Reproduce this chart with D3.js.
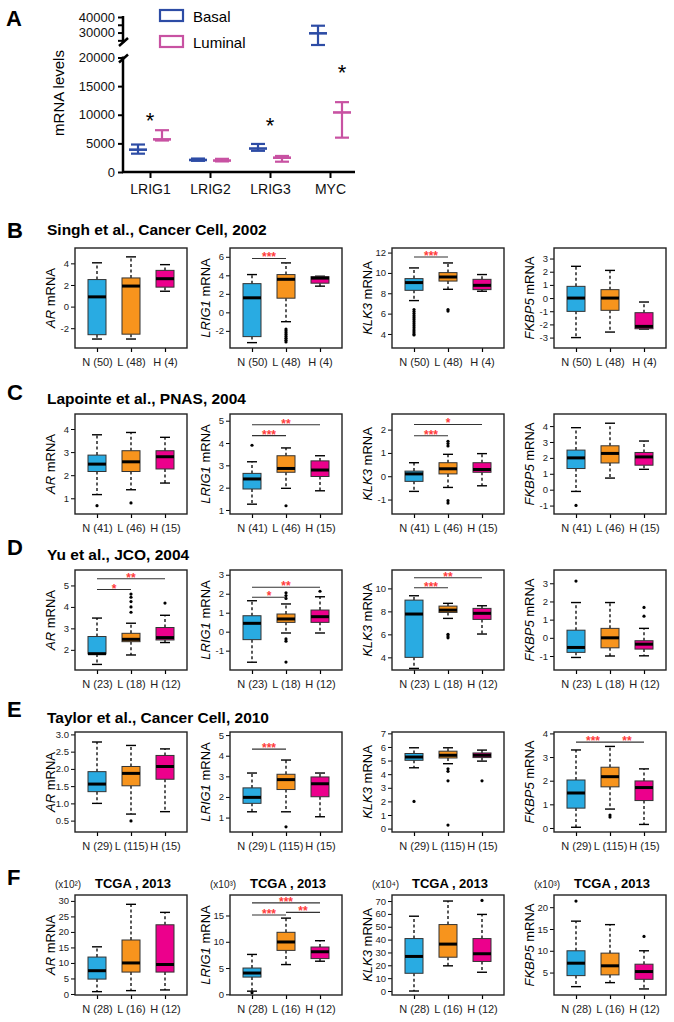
<!DOCTYPE html>
<html>
<head>
<meta charset="utf-8">
<script src="https://cdn.jsdelivr.net/npm/d3@7"></script>
<style>
body { margin: 0; background: #fff; }
svg { display: block; font-family: "Liberation Sans", Arial, Helvetica, sans-serif; }
</style>
</head>
<body>
<script>
const WIDTH = 674;
const HEIGHT = 1022;
const FONT = "'Liberation Sans', Arial, Helvetica, sans-serif";

// ---------- panel A data
const genesA = ["LRIG1", "LRIG2", "LRIG3", "MYC"];
const basalMean = [3900, 2100, 4100, 29500];
const basalHigh = [4800, 2350, 4900, 34400];
const basalLow = [3200, 1950, 3700, 22000];
const luminalMean = [5700, 2000, 2500, 10400];
const luminalHigh = [7300, 2300, 2800, 12200];
const luminalLow = [5500, 1850, 1800, 6000];
const starGenesA = ["LRIG1", "LRIG3", "MYC"];
const starLevelsA = [9700, 8900, 18100];
const starOverA = ["both", "both", "Luminal"];
const yTicksA = [0, 5000, 10000, 15000, 20000, 25000, 30000, 35000, 40000];
const yLabelsA = [0, 5000, 10000, 15000, 20000, 30000, 40000];

// ---------- panels B-F data
const groups = ["N", "L", "H"];
const genes = ["AR", "LRIG1", "KLK3", "FKBP5"];
const studies = [
    "Singh et al., Cancer Cell, 2002",
    "Lapointe et al., PNAS, 2004",
    "Yu et al., JCO, 2004",
    "Taylor et al., Cancer Cell, 2010",
    "TCGA , 2013"
];
const letters = ["B", "C", "D", "E", "F"];
const tcgaScales = ["(x10²)", "(x10³)", "(x10⁴)", "(x10³)"];

// box stats per gene (AR, LRIG1, KLK3, FKBP5), each N, L, H: [low, q1, median, q3, high]
const singhCounts = [50, 48, 4];
const singhStats = [
    [[-3.0, -2.6, 0.9, 2.5, 4.05], [-3.0, -2.55, 1.9, 2.65, 4.6], [1.42, 1.8, 2.58, 3.35, 3.88]],
    [[-3.27, -2.62, 1.57, 3.1, 4.08], [-1.01, 1.53, 3.57, 4.08, 5.34], [2.83, 3.15, 3.7, 3.85, 3.9]],
    [[7.28, 8.29, 9.05, 9.44, 10.49], [8.39, 9.2, 9.6, 10.03, 10.98], [8.2, 8.36, 8.78, 9.37, 9.84]],
    [[-3.0, -1.01, 0.0, 0.89, 2.41], [-2.58, -0.93, 0.0, 0.64, 2.1], [-2.35, -2.33, -2.15, -1.11, -0.3]]
];
const singhOut = [
    [[], [], []],
    [[], [-1.8, -2.0, -2.2, -2.4, -2.6, -2.8, -3.0, -3.2], []],
    [[6.4, 6.2, 6.0, 5.8, 5.6, 5.4, 5.2, 5.0, 4.8, 4.6, 4.4, 4.2, 4.0, 3.9], [6.4, 6.25], []],
    [[], [], []]
];
const singhTicks = [[-2, 0, 2, 4], [-2, 0, 2, 4, 6], [4, 6, 8, 10, 12], [-3, -2, -1, 0, 1, 2, 3]];
const singhDomain = [[-3.83, 5.42], [-3.85, 6.95], [2.62, 12.45], [-3.79, 3.8]];
const singhSig = [[1, "N", "L", 5.82, "***"], [2, "N", "L", 11.57, "***"]];

const lapointeCounts = [41, 46, 15];
const lapointeStats = [
    [[1.16, 2.16, 2.48, 2.87, 3.75], [1.37, 2.16, 2.58, 3.06, 3.85], [1.66, 2.27, 2.8, 3.06, 3.64]],
    [[1.26, 1.94, 2.39, 2.64, 3.16], [1.97, 2.69, 2.86, 3.43, 3.78], [1.86, 2.5, 2.79, 3.2, 3.43]],
    [[-0.65, -0.22, 0.1, 0.22, 0.58], [-0.48, 0.1, 0.32, 0.58, 0.94], [-0.41, 0.17, 0.29, 0.58, 0.97]],
    [[-0.11, 1.33, 2.0, 2.49, 3.9], [0.73, 1.68, 2.28, 2.76, 4.18], [1.28, 1.54, 2.06, 2.34, 3.06]]
];
const lapointeOut = [
    [[0.68], [0.8], []],
    [[3.9], [1.19], []],
    [[], [1.5, 1.4, 1.3, -1.05, -1.15], []],
    [[-0.99], [], []]
];
const lapointeTicks = [[1, 2, 3, 4], [1, 2, 3, 4, 5], [-1, 0, 1, 2], [-1, 0, 1, 2, 3, 4]];
const lapointeDomain = [[0.32, 4.65], [0.82, 5.3], [-1.62, 2.67], [-1.53, 4.76]];
const lapointeSig = [
    [1, "N", "L", 4.33, "***"], [1, "N", "H", 4.82, "**"],
    [2, "N", "L", 1.74, "***"], [2, "N", "H", 2.22, "*"]
];

const yuCounts = [23, 18, 12];
const yuStats = [
    [[1.32, 1.81, 1.82, 2.62, 3.48], [1.76, 2.38, 2.49, 2.77, 3.24], [2.34, 2.46, 2.57, 3.04, 3.61]],
    [[-1.61, -0.42, 0.44, 0.84, 1.63], [-0.07, 0.49, 0.67, 0.93, 1.46], [-0.07, 0.49, 0.79, 1.14, 1.84]],
    [[3.04, 4.0, 7.77, 8.98, 9.36], [7.39, 7.91, 8.11, 8.46, 8.7], [6.03, 7.3, 7.83, 8.26, 8.49]],
    [[-1.08, -0.8, -0.53, 0.42, 1.94], [-1.0, -0.55, 0.0, 0.52, 1.94], [-0.99, -0.62, -0.35, -0.16, 0.52]]
];
const yuOut = [
    [[], [4.6, 4.45, 4.25, 4.0, 3.75], [4.18]],
    [[], [2.05, 1.9, 1.75, -0.38, -0.5, -1.6], [2.13]],
    [[], [6.0, 5.85, 5.7], []],
    [[3.12], [], [1.67, 1.19]]
];
const yuTicks = [[2, 3, 4, 5], [-1, 0, 1, 2, 3], [4, 6, 8, 10], [-1, 0, 1, 2, 3]];
const yuDomain = [[1.06, 5.72], [-2.02, 3.25], [2.9, 11.6], [-1.77, 3.73]];
const yuSig = [
    [0, "N", "L", 4.81, "*"], [0, "N", "H", 5.31, "**"],
    [1, "N", "L", 1.81, "*"], [1, "N", "H", 2.34, "**"],
    [2, "N", "L", 10.05, "***"], [2, "N", "H", 10.92, "**"]
];

const taylorCounts = [29, 115, 15];
const taylorStats = [
    [[1.0, 1.34, 1.56, 1.92, 2.78], [0.69, 1.51, 1.87, 2.07, 2.68], [0.76, 1.7, 2.07, 2.39, 2.58]],
    [[1.28, 1.69, 1.98, 2.44, 3.16], [1.28, 2.36, 2.84, 3.1, 3.79], [1.04, 2.01, 2.64, 2.97, 3.16]],
    [[4.47, 5.02, 5.26, 5.52, 5.94], [4.77, 5.19, 5.39, 5.69, 5.94], [4.96, 5.22, 5.39, 5.56, 5.77]],
    [[0.03, 0.84, 1.48, 2.03, 3.3], [0.8, 1.74, 2.17, 2.57, 3.45], [0.15, 1.16, 1.71, 1.99, 2.5]]
];
const taylorOut = [
    [[], [0.49], []],
    [[], [0.55], []],
    [[2.0], [4.39, 4.21, 3.51, 0.26], [3.51]],
    [[], [0.55, 0.46], []]
];
const taylorTicks = [[0.5, 1.0, 1.5, 2.0, 2.5, 3.0], [1, 2, 3, 4, 5], [0, 1, 2, 3, 4, 5, 6, 7], [0, 1, 2, 3, 4]];
const taylorDomain = [[0.17, 3.07], [0.3, 5.15], [-0.25, 7.1], [-0.17, 4.06]];
const taylorSig = [[1, "N", "L", 4.32, "***"], [3, "N", "L", 3.63, "***"], [3, "L", "H", 3.63, "**"]];

const tcgaCounts = [28, 16, 12];
const tcgaStats = [
    [[0.75, 4.8, 7.5, 11.9, 15.2], [1.08, 7.06, 10.0, 17.4, 28.9], [1.3, 7.06, 9.5, 22.3, 26.3]],
    [[0.6, 3.28, 4.05, 5.0, 7.59], [5.66, 8.36, 9.96, 11.8, 14.5], [6.3, 6.8, 8.1, 9.0, 10.2]],
    [[0, 13.8, 26.9, 40.8, 58.2], [19.6, 26.3, 36.5, 51.7, 70], [14.6, 23, 29, 40.8, 59.6]],
    [[1.77, 4.3, 7.15, 10.0, 16.8], [2.69, 4.47, 6.55, 9.46, 16.0], [1.24, 3.45, 5.23, 6.92, 10.0]]
];
const tcgaOut = [
    [[], [], []],
    [[0.3], [], []],
    [[], [], [70.5]],
    [[21.4], [], [13.3]]
];
const tcgaTicks = [[0, 5, 10, 15, 20, 25, 30], [0, 5, 10, 15], [0, 10, 20, 30, 40, 50, 60, 70], [5, 10, 15, 20]];
const tcgaDomain = [[-0.33, 31.9], [-0.13, 18.9], [-3.1, 74.7], [-0.15, 22.8]];
const tcgaSig = [[1, "N", "L", 15.1, "***"], [1, "L", "H", 15.6, "**"], [1, "N", "H", 17.4, "***"]];

// ---------- styles / layout
const groupColors = { N: "#29abe2", L: "#f7941d", H: "#ec008c" };
const basalColor = "#2d4ca5";
const luminalColor = "#c852a2";
const starColor = "#ff3b3b";
const rowTops = [248, 414, 570, 732, 895];
const colLefts = [75, 230, 392, 554];
const PW = 112, PH = 100;
const letterBaselines = [238, 400, 555, 717, 885];
const titleBaselines = [235, 404, 560, 723, 888];

const svg = d3.select("body").append("svg")
    .attr("width", WIDTH)
    .attr("height", HEIGHT);

// ================= panel A
const gA = svg.append("g");
gA.append("text").attr("x", 6).attr("y", 26)
    .attr("font-size", 22).attr("font-weight", "bold").text("A");

const xA = d3.scalePoint().domain(genesA).range([150, 330]);
const yA = d3.scaleLinear().domain([0, 20000, 22000, 40000]).range([172, 57.5, 45, 17]);

const yAxisA = gA.append("g")
    .attr("transform", "translate(123,0)")
    .call(d3.axisLeft(yA).tickValues(yTicksA).tickSize(5).tickPadding(3)
        .tickFormat(d => yLabelsA.includes(d) ? d : ""));
yAxisA.attr("font-family", FONT);
yAxisA.select(".domain").remove();
yAxisA.selectAll("line").attr("stroke-width", 2);
yAxisA.selectAll("text").attr("font-size", 13).attr("fill", "#111");

// broken axis line
gA.append("line").attr("x1", 123).attr("x2", 123)
    .attr("y1", yA(0) + 1).attr("y2", yA(20000) - 1)
    .attr("stroke", "#000").attr("stroke-width", 2.5);
gA.append("line").attr("x1", 123).attr("x2", 123)
    .attr("y1", yA(40000) - 1).attr("y2", yA(22000) - 2)
    .attr("stroke", "#000").attr("stroke-width", 2.5);
[yA(20000) + 1, yA(22000) - 3].forEach(yy => {
    gA.append("line").attr("x1", 119).attr("x2", 128)
        .attr("y1", yy + 4).attr("y2", yy - 4)
        .attr("stroke", "#000").attr("stroke-width", 2.5);
});

const xAxisA = gA.append("g")
    .attr("transform", "translate(0,172)")
    .call(d3.axisBottom(xA).tickSize(6).tickPadding(6));
xAxisA.attr("font-family", FONT);
xAxisA.select(".domain").remove();
xAxisA.selectAll("line").attr("stroke-width", 2);
xAxisA.selectAll("text").attr("font-size", 14).attr("fill", "#111");
gA.append("line").attr("x1", 122).attr("x2", 355)
    .attr("y1", 172).attr("y2", 172)
    .attr("stroke", "#000").attr("stroke-width", 2.5);

gA.append("text")
    .attr("transform", "translate(64,93) rotate(-90)")
    .attr("text-anchor", "middle")
    .attr("font-size", 15)
    .text("mRNA levels");

const seriesA = [
    { name: "Basal", color: basalColor, off: -12, mean: basalMean, hi: basalHigh, lo: basalLow },
    { name: "Luminal", color: luminalColor, off: 12, mean: luminalMean, hi: luminalHigh, lo: luminalLow }
];

seriesA.forEach(s => {
    genesA.forEach((gname, i) => {
        const cx = xA(gname) + s.off;
        const g = gA.append("g").attr("stroke", s.color).attr("fill", "none");
        g.append("line").attr("x1", cx).attr("x2", cx)
            .attr("y1", yA(s.lo[i])).attr("y2", yA(s.hi[i])).attr("stroke-width", 2.2);
        [s.lo[i], s.hi[i]].forEach(v => {
            g.append("line").attr("x1", cx - 7).attr("x2", cx + 7)
                .attr("y1", yA(v)).attr("y2", yA(v)).attr("stroke-width", 2.2);
        });
        g.append("line").attr("x1", cx - 9).attr("x2", cx + 9)
            .attr("y1", yA(s.mean[i])).attr("y2", yA(s.mean[i])).attr("stroke-width", 2.6);
    });
});

starGenesA.forEach((gname, i) => {
    const s = seriesA.find(d => d.name === starOverA[i]);
    const cx = xA(gname) + (s ? s.off : 0);
    gA.append("text").attr("x", cx).attr("y", yA(starLevelsA[i]) + 12)
        .attr("text-anchor", "middle").attr("font-size", 22).text("*");
});

// legend
seriesA.forEach((s, i) => {
    gA.append("rect").attr("x", 160).attr("y", 10 + i * 26)
        .attr("width", 23).attr("height", 11)
        .attr("fill", "none").attr("stroke", s.color).attr("stroke-width", 2.2);
    gA.append("text").attr("x", 193).attr("y", 21.5 + i * 26)
        .attr("font-size", 15).text(s.name);
});

// ================= panels B-F
const rows = [
    { counts: singhCounts, stats: singhStats, out: singhOut, ticks: singhTicks, domain: singhDomain, sig: singhSig },
    { counts: lapointeCounts, stats: lapointeStats, out: lapointeOut, ticks: lapointeTicks, domain: lapointeDomain, sig: lapointeSig },
    { counts: yuCounts, stats: yuStats, out: yuOut, ticks: yuTicks, domain: yuDomain, sig: yuSig },
    { counts: taylorCounts, stats: taylorStats, out: taylorOut, ticks: taylorTicks, domain: taylorDomain, sig: taylorSig },
    { counts: tcgaCounts, stats: tcgaStats, out: tcgaOut, ticks: tcgaTicks, domain: tcgaDomain, sig: tcgaSig }
];

function drawBoxPlot(g, left, top, row, gi) {
    const x = d3.scalePoint().domain(groups).range([left + 22, left + 90]);
    const y = d3.scaleLinear().domain(row.domain[gi]).range([top + PH, top]);
    const ticks = row.ticks[gi];
    const fmt = ticks.some(t => !Number.isInteger(t)) ? (d => d.toFixed(1)) : (d => String(d));

    const yAx = g.append("g").attr("transform", `translate(${left},0)`)
        .call(d3.axisLeft(y).tickValues(ticks).tickSize(4).tickPadding(2).tickFormat(fmt));
    yAx.attr("font-family", FONT);
    yAx.select(".domain").remove();
    yAx.selectAll("text").attr("font-size", 9.5).attr("fill", "#222");

    const xAx = g.append("g").attr("transform", `translate(0,${top + PH})`)
        .call(d3.axisBottom(x).tickSize(4).tickPadding(6)
            .tickFormat((d, i) => `${d} (${row.counts[i]})`));
    xAx.attr("font-family", FONT);
    xAx.select(".domain").remove();
    xAx.selectAll("line").attr("stroke-width", 1.2);
    xAx.selectAll("text").attr("font-size", 11).attr("fill", "#222");

    const lab = g.append("text")
        .attr("transform", `translate(${left - 20},${top + PH / 2}) rotate(-90)`)
        .attr("text-anchor", "middle").attr("font-size", 13);
    lab.append("tspan").attr("font-style", "italic").text(genes[gi]);
    lab.append("tspan").text(" mRNA");

    const bw = 18;
    groups.forEach((grp, k) => {
        const [lo, q1, med, q3, hi] = row.stats[gi][k];
        const cx = x(grp);
        g.append("line").attr("x1", cx).attr("x2", cx)
            .attr("y1", y(q3)).attr("y2", y(hi))
            .attr("stroke", "#000").attr("stroke-width", 1.3).attr("stroke-dasharray", "3,2.5");
        g.append("line").attr("x1", cx).attr("x2", cx)
            .attr("y1", y(q1)).attr("y2", y(lo))
            .attr("stroke", "#000").attr("stroke-width", 1.3).attr("stroke-dasharray", "3,2.5");
        [lo, hi].forEach(v => {
            g.append("line").attr("x1", cx - 5).attr("x2", cx + 5)
                .attr("y1", y(v)).attr("y2", y(v))
                .attr("stroke", "#000").attr("stroke-width", 1.4);
        });
        g.append("rect").attr("x", cx - bw / 2).attr("y", y(q3))
            .attr("width", bw).attr("height", Math.max(0.5, y(q1) - y(q3)))
            .attr("fill", groupColors[grp]).attr("stroke", "#333").attr("stroke-width", 1);
        g.append("line").attr("x1", cx - bw / 2).attr("x2", cx + bw / 2)
            .attr("y1", y(med)).attr("y2", y(med))
            .attr("stroke", "#000").attr("stroke-width", 3);
        g.selectAll(null).data(row.out[gi][k]).join("circle")
            .attr("cx", cx).attr("cy", d => y(d)).attr("r", 1.6).attr("fill", "#000");
    });

    g.append("rect").attr("x", left).attr("y", top)
        .attr("width", PW).attr("height", PH)
        .attr("fill", "none").attr("stroke", "#222").attr("stroke-width", 1.4);

    row.sig.filter(s => s[0] === gi).forEach(([, a, b, lvl, label]) => {
        g.append("line").attr("x1", x(a)).attr("x2", x(b))
            .attr("y1", y(lvl)).attr("y2", y(lvl))
            .attr("stroke", "#333").attr("stroke-width", 1.1);
        g.append("text").attr("x", (x(a) + x(b)) / 2).attr("y", y(lvl) + 3)
            .attr("text-anchor", "middle").attr("font-size", 12).attr("font-weight", "bold")
            .attr("fill", starColor).text(label);
    });
}

rows.forEach((row, ri) => {
    const g = svg.append("g");
    g.append("text").attr("x", 7).attr("y", letterBaselines[ri])
        .attr("font-size", 22).attr("font-weight", "bold").text(letters[ri]);
    if (ri < 4) {
        g.append("text").attr("x", 47).attr("y", titleBaselines[ri])
            .attr("font-size", 15.5).attr("font-weight", "bold").text(studies[ri]);
    }
    genes.forEach((gene, gi) => {
        const left = colLefts[gi];
        if (ri === 4) {
            g.append("text").attr("x", left - 20).attr("y", titleBaselines[ri])
                .attr("font-size", 10).attr("fill", "#222").text(tcgaScales[gi]);
            g.append("text").attr("x", left + 58).attr("y", titleBaselines[ri])
                .attr("text-anchor", "middle").attr("font-size", 13)
                .attr("font-weight", "bold").text(studies[ri]);
        }
        drawBoxPlot(g, left, rowTops[ri], row, gi);
    });
});
</script>
</body>
</html>
